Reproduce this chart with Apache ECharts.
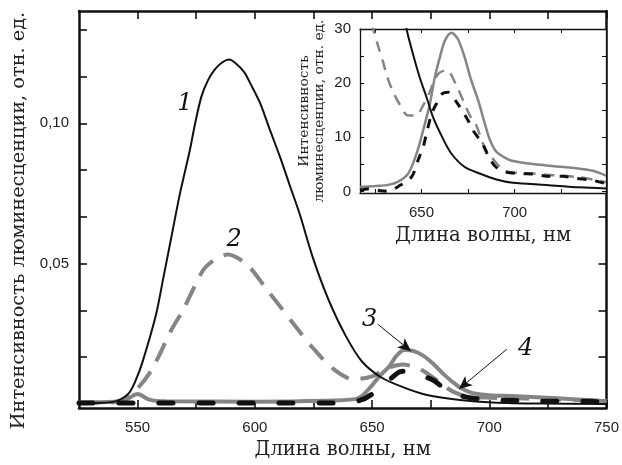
<!DOCTYPE html>
<html>
<head>
<meta charset="utf-8">
<script src="https://cdn.jsdelivr.net/npm/echarts@6/dist/echarts.min.js"></script>
<style>
  html, body { margin: 0; padding: 0; background: #fff; }
  #chart { width: 622px; height: 465px; }
</style>
</head>
<body>
<div id="chart"></div>
<script>
// Main plot: wavelength (nm) vs intensity (rel. units)
const curve1Main = [[525,0.0003],[535,0.0004],[540,0.0008],[543.5,0.002],[546.5,0.004],[549,0.008],[552,0.0147],[557.7,0.0313],[561,0.045],[565,0.062],[568.1,0.0751],[572.3,0.0905],[574.4,0.0994],[577.2,0.1095],[580,0.1153],[582.8,0.119],[585.6,0.1214],[589.1,0.1227],[591.8,0.1214],[595.4,0.1183],[598,0.1143],[602.3,0.1071],[606.4,0.0977],[610.7,0.0881],[614.8,0.0781],[619,0.068],[625,0.0515],[631.5,0.037],[638.6,0.0245],[645.6,0.0152],[654,0.0094],[663.7,0.0058],[673.4,0.0032],[687.5,0.0014],[701.5,0.0005],[722,0.0001],[750,0.0]];
const curve2Main = [[525,0.0003],[540,0.0006],[545,0.002],[550,0.0055],[556.1,0.0123],[564.5,0.0265],[569.5,0.0336],[574.4,0.042],[579.3,0.049],[588.4,0.0532],[596.7,0.0496],[605.1,0.0408],[610.7,0.0348],[618.4,0.0265],[624.7,0.02],[633.7,0.0123],[642.1,0.0088],[650,0.0098],[656,0.0125],[663,0.014],[669.3,0.0129],[677,0.0088],[680.5,0.0065],[685,0.0042],[690,0.0028],[700,0.0022],[715,0.0019],[730,0.0016],[750,0.0012]];
const curve3Main = [[525,0.0006],[540,0.0008],[545,0.0015],[550,0.0035],[555,0.0015],[562,0.0009],[600,0.0008],[630.2,0.0011],[642.8,0.0017],[645.6,0.0028],[649.8,0.0064],[653.3,0.01],[657.5,0.0135],[660.3,0.017],[663.7,0.0192],[667.9,0.0188],[672.1,0.017],[676.3,0.0141],[680.5,0.0106],[684.7,0.0076],[688.9,0.0052],[693.1,0.0038],[700,0.0031],[709.8,0.0028],[730.7,0.0019],[747.5,0.0011],[750,0.001]];
const curve4Main = [[525,0.0003],[600,0.0003],[640,0.0004],[646.3,0.0017],[650,0.0035],[654,0.0058],[658,0.009],[662,0.0115],[665,0.0117],[671.4,0.01],[676,0.0085],[680.5,0.0058],[688.2,0.0028],[698.5,0.0015],[706.9,0.0013],[720,0.001],[740,0.0009],[750,0.0007]];

// Inset: same spectra, 617-749 nm, different units
const curve1Inset = [[617,110],[625,80],[632,50],[642,30],[645.5,25.3],[649.1,21],[652.7,17.4],[656.2,13.7],[660.7,10.3],[666,7],[673.2,4.5],[681.2,3.3],[690.2,2.2],[699,1.6],[717,1.2],[734.8,0.75],[749,0.55]];
const curve2Inset = [[617,45],[622,33],[626.6,27],[629.3,24],[631.3,21.5],[634,19],[638.4,16],[642.9,14],[647,14],[650.9,15.9],[653.6,17.7],[658.9,21.7],[663.4,22.4],[669.6,18.9],[672.3,16.8],[676,14],[679,12.5],[684,8],[687.6,6.3],[694.6,3.8],[702.7,3.4],[710,3.3],[720,3.0],[735,2.6],[749,1.7]];
const curve3Inset = [[617,0.8],[625,1.0],[632.1,1.2],[637.5,1.8],[642.9,3.3],[647.4,7],[650.9,11.3],[654.5,16.2],[657.1,21],[659.8,24.7],[662.5,27.8],[666.1,29.3],[669.6,28.1],[673.2,24.7],[676.8,20.4],[680.7,16.5],[684,12.5],[686.6,9.6],[689.5,7.6],[692,6.8],[697.3,5.8],[704.4,5.3],[717,4.8],[734.8,4.2],[742,3.8],[749,2.9]];
const curve4Inset = [[617,0.2],[622,0.5],[628,0.1],[632,0],[637.5,0.9],[644.7,2.7],[648.2,5.8],[650.9,8.2],[652.7,10.7],[655.4,14.3],[658,16.2],[661,18],[664.3,18.3],[668.8,16.5],[675,13.1],[677.6,11.3],[682.7,8.8],[686.5,6.1],[690,4.5],[695,3.6],[702.7,3.3],[710.7,3.2],[717,2.8],[725.7,2.8],[733,2.4],[741,2.1],[748.2,1.5]];

// Ticks and labels
const xTicksMain = [550, 575, 600, 625, 650, 675, 700, 725, 750];
const xLabelsMain = [550, 600, 650, 700, 750];
const yTicksMain = [0.0167, 0.0333, 0.05, 0.0667, 0.0833, 0.1, 0.1167, 0.1333];
const yLabelsMain = [0.05, 0.10];
const xTicksInset = [625, 650, 675, 700, 725];
const xLabelsInset = [650, 700];
const yTicksInset = [0, 5, 10, 15, 20, 25, 30];
const yLabelsInset = [0, 10, 20, 30];

// Curve numbers and arrows: [x, y] in main data coordinates
const curveLabels = [['1', 570.2, 0.1071], ['2', 591.2, 0.0586], ['3', 649, 0.0301], ['4', 715.5, 0.0197]];
const arrows = [[[652.4, 0.0284], [666.6, 0.0188]], [[707.5, 0.0195], [687.1, 0.0053]]];

const BLACK = '#111';
const GRAY = '#858585';
const SERIF = '"DejaVu Serif", "Liberation Serif", serif';
const SANS = '"Liberation Sans", Arial, sans-serif';

function axis(opts) {
    const big = opts.big;
    return Object.assign({
        type: 'value',
        splitLine: { show: false },
        axisLine: { show: true, onZero: false, lineStyle: { color: BLACK, width: big ? 2.5 : 1.3 } },
        axisTick: { show: true, inside: true, length: big ? 8 : 4, lineStyle: { color: BLACK, width: big ? 1.6 : 1 } },
        axisLabel: { show: false }
    }, opts.extra);
}

function ticks(values, big) {
    return { show: true, inside: true, length: big ? 8 : 4, customValues: values, lineStyle: { color: BLACK, width: big ? 1.6 : 1 } };
}

const chart = echarts.init(document.getElementById('chart'));

chart.setOption({
    animation: false,
    backgroundColor: '#fff',
    grid: [
        { left: 79, top: 11, right: 6, bottom: 56 },
        { left: 360, top: 29, width: 246, height: 164, show: true, backgroundColor: '#fff', borderWidth: 0, z: 5 }
    ],
    xAxis: [
        axis({ big: true, extra: {
            gridIndex: 0, min: 525, max: 750, position: 'bottom',
            axisTick: ticks(xTicksMain, true),
            axisLabel: { show: true, customValues: xLabelsMain, margin: 12, color: '#222', fontSize: 15, fontFamily: SANS },
            name: 'Длина волны, нм', nameLocation: 'middle', nameGap: 27,
            nameTextStyle: { fontFamily: SERIF, fontSize: 19.5, color: '#222' }
        }}),
        axis({ big: true, extra: {
            gridIndex: 0, min: 525, max: 750, position: 'top',
            axisTick: ticks(xTicksMain, true)
        }}),
        axis({ extra: {
            gridIndex: 1, min: 617, max: 749, position: 'bottom', z: 6,
            axisTick: ticks(xTicksInset, false),
            axisLabel: { show: true, customValues: xLabelsInset, margin: 12, color: '#222', fontSize: 15, fontFamily: SANS },
            name: 'Длина волны, нм', nameLocation: 'middle', nameGap: 33,
            nameTextStyle: { fontFamily: SERIF, fontSize: 19.5, color: '#222' }
        }}),
        axis({ extra: {
            gridIndex: 1, min: 617, max: 749, position: 'top', z: 6,
            axisTick: ticks(xTicksInset, false)
        }})
    ],
    yAxis: [
        axis({ big: true, extra: {
            gridIndex: 0, min: -0.0015, max: 0.14, position: 'left',
            axisTick: ticks(yTicksMain, true),
            axisLabel: {
                show: true, customValues: yLabelsMain, margin: 10, color: '#222', fontSize: 15, fontFamily: SANS,
                formatter: v => v.toFixed(2).replace('.', ',')
            },
            name: 'Интенсивность люминесценции, отн. ед.', nameLocation: 'middle', nameGap: 51,
            nameTextStyle: { fontFamily: SERIF, fontSize: 19.3, color: '#222', padding: [0, 22, 0, 0] }
        }}),
        axis({ big: true, extra: {
            gridIndex: 0, min: -0.0015, max: 0.14, position: 'right',
            axisTick: ticks(yTicksMain, true)
        }}),
        axis({ extra: {
            gridIndex: 1, min: -0.3, max: 30, position: 'left', z: 6,
            axisTick: ticks(yTicksInset, false),
            axisLabel: { show: true, customValues: yLabelsInset, margin: 9, color: '#222', fontSize: 15, fontFamily: SANS },
            name: 'Интенсивность\nлюминесценции, отн. ед.', nameLocation: 'middle', nameGap: 33,
            nameTextStyle: { fontFamily: SERIF, fontSize: 13.8, color: '#222', lineHeight: 15 }
        }}),
        axis({ extra: {
            gridIndex: 1, min: -0.3, max: 30, position: 'right', z: 6,
            axisTick: ticks(yTicksInset, false)
        }})
    ],
    series: [
        { type: 'line', xAxisIndex: 0, yAxisIndex: 0, data: curve2Main, smooth: 0.3, showSymbol: false, silent: true,
          lineStyle: { color: GRAY, width: 4, type: [20, 12] } },
        { type: 'line', xAxisIndex: 0, yAxisIndex: 0, data: curve3Main, smooth: 0.3, showSymbol: false, silent: true,
          lineStyle: { color: GRAY, width: 4 } },
        { type: 'line', xAxisIndex: 0, yAxisIndex: 0, data: curve4Main, smooth: 0.3, showSymbol: false, silent: true,
          lineStyle: { color: BLACK, width: 5, type: [14, 26], cap: 'round' } },
        { type: 'line', xAxisIndex: 0, yAxisIndex: 0, data: curve1Main, smooth: 0.3, showSymbol: false, silent: true,
          lineStyle: { color: BLACK, width: 2 },
          markPoint: {
              silent: true, symbol: 'rect', symbolSize: 1, itemStyle: { color: 'rgba(0,0,0,0)' },
              label: { show: true, position: 'inside', formatter: p => p.name, color: BLACK,
                       fontFamily: SERIF, fontStyle: 'italic', fontSize: 24 },
              data: curveLabels.map(c => ({ name: c[0], coord: [c[1], c[2]] }))
          },
          markLine: {
              silent: true, symbol: ['none', 'arrow'], symbolSize: [9, 13],
              label: { show: false }, lineStyle: { color: BLACK, width: 1, type: 'solid' },
              data: arrows.map(a => [{ coord: a[0] }, { coord: a[1] }])
          }
        },
        { type: 'line', xAxisIndex: 2, yAxisIndex: 2, z: 7, data: curve2Inset, smooth: 0.3, showSymbol: false, silent: true,
          lineStyle: { color: GRAY, width: 2.5, type: [11, 8] } },
        { type: 'line', xAxisIndex: 2, yAxisIndex: 2, z: 7, data: curve3Inset, smooth: 0.3, showSymbol: false, silent: true,
          lineStyle: { color: GRAY, width: 2.5 } },
        { type: 'line', xAxisIndex: 2, yAxisIndex: 2, z: 7, data: curve4Inset, smooth: 0.3, showSymbol: false, silent: true,
          lineStyle: { color: BLACK, width: 3, type: [9, 9] } },
        { type: 'line', xAxisIndex: 2, yAxisIndex: 2, z: 7, data: curve1Inset, smooth: 0.3, showSymbol: false, silent: true,
          lineStyle: { color: BLACK, width: 2 } }
    ]
});
</script>
</body>
</html>
